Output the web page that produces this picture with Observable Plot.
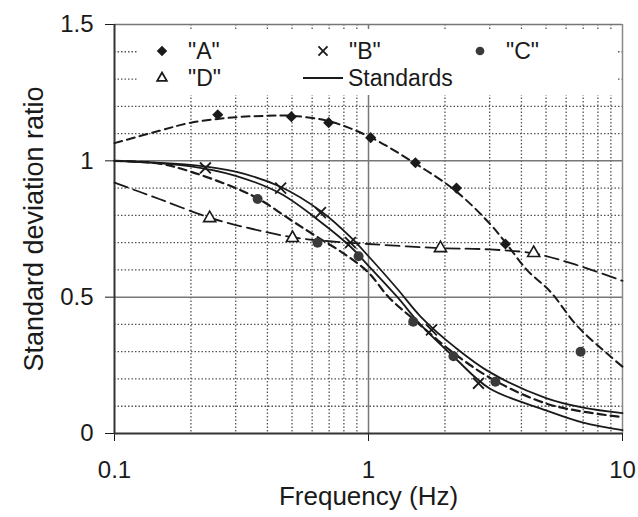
<!DOCTYPE html>
<html><head><meta charset="utf-8">
<script src="https://cdn.jsdelivr.net/npm/d3@7"></script>
<script src="https://cdn.jsdelivr.net/npm/@observablehq/plot@0.6"></script>
<style>
body{margin:0;background:#fff;}
#wrap{position:relative;width:638px;height:517px;font-family:"Liberation Sans",Arial,sans-serif;}
#legend{position:absolute;left:0;top:0;pointer-events:none;}
</style></head><body><div id="wrap"></div>
<script>
// Grid / ticks
const xTicks = [0.1, 1, 10];
const yTicks = [0, 0.5, 1, 1.5];
const minorX = [0.2,0.3,0.4,0.5,0.6,0.7,0.8,0.9,2,3,4,5,6,7,8,9];
const majorX = [1];
const minorY = [0.1,0.2,0.3,0.4,0.6,0.7,0.8,0.9,1.1,1.2,1.3,1.4];
const majorY = [0.5, 1];

// Measured points
const aF = [0.255,0.497,0.697,1.02,1.53,2.22,3.46];
const aY = [1.169,1.162,1.14,1.085,0.993,0.90,0.695];
const bF = [0.228,0.451,0.647,0.849,1.77,2.71];
const bY = [0.974,0.90,0.81,0.70,0.38,0.184];
const cF = [0.366,0.63,0.914,1.5,2.16,3.16,6.84];
const cY = [0.86,0.70,0.65,0.41,0.283,0.19,0.30];
const dF = [0.237,0.502,1.92,4.47];
const dY = [0.79,0.717,0.68,0.662];

// Fitted curves
const aFitF = [0.1,0.15,0.2,0.3,0.4,0.5,0.7,1,1.5,2.2,3,3.5,4.2,5.2,6.7,10];
const aFitY = [1.065,1.11,1.14,1.16,1.165,1.165,1.145,1.09,0.995,0.89,0.77,0.695,0.60,0.52,0.39,0.245];
const cFitF = [0.1,0.15,0.2,0.3,0.37,0.5,0.63,0.8,1,1.2,1.5,2.2,3.2,5,7,10];
const cFitY = [1.0,0.99,0.96,0.9,0.86,0.78,0.72,0.66,0.59,0.5,0.42,0.29,0.19,0.11,0.08,0.06];
const dFitF = [0.1,0.15,0.24,0.35,0.5,0.7,1,1.9,3,4.5,6.5,10];
const dFitY = [0.92,0.86,0.79,0.75,0.72,0.705,0.695,0.68,0.675,0.66,0.62,0.56];
const sF  = [0.1,0.2,0.3,0.45,0.65,0.85,1,1.3,1.6,2.2,3,5,7,10];
const s1Y = [1.0,0.985,0.96,0.905,0.815,0.72,0.65,0.53,0.43,0.315,0.225,0.13,0.095,0.075];
const s2Y = [1.0,0.98,0.945,0.88,0.775,0.685,0.615,0.5,0.40,0.275,0.165,0.085,0.04,0.012];

const zip = (fs, ys) => fs.map((f, i) => ({f, y: ys[i]}));
const ink = "#1a1a1a";

const chart = Plot.plot({
  width: 638, height: 517,
  marginLeft: 114, marginRight: 16, marginTop: 24, marginBottom: 84,
  style: {fontFamily: '"Liberation Sans", Arial, sans-serif', fontSize: "24px", color: ink, background: "white"},
  x: {type: "log", domain: [0.1, 10]},
  y: {domain: [0, 1.5]},
  marks: [
    Plot.ruleX(minorX, {stroke: "#555", strokeWidth: 1.3, strokeDasharray: "1.5,2"}),
    Plot.ruleY(minorY, {stroke: "#555", strokeWidth: 1.3, strokeDasharray: "1.5,2"}),
    Plot.ruleX(majorX, {stroke: "#777", strokeWidth: 1.5}),
    Plot.ruleY(majorY, {stroke: "#777", strokeWidth: 1.5}),
    Plot.ruleY([1.5], {stroke: "#777", strokeWidth: 1.5}),
    Plot.ruleX([10], {stroke: "#888", strokeWidth: 1.5}),
    Plot.axisX({ticks: xTicks, tickFormat: d => String(d), tickSize: 8, tickPadding: 19, fontSize: 24, label: null, stroke: ink}),
    Plot.axisY({ticks: yTicks, tickFormat: d => String(d), tickSize: 9, tickPadding: 12, fontSize: 24, label: null, stroke: ink}),
    Plot.ruleX([0.1], {stroke: "#333", strokeWidth: 2}),
    Plot.ruleY([0], {stroke: "#333", strokeWidth: 2}),
    Plot.line(zip(sF, s1Y), {x: "f", y: "y", curve: "catmull-rom", stroke: ink, strokeWidth: 1.8}),
    Plot.line(zip(sF, s2Y), {x: "f", y: "y", curve: "catmull-rom", stroke: ink, strokeWidth: 1.8}),
    Plot.line(zip(aFitF, aFitY), {x: "f", y: "y", curve: "catmull-rom", stroke: ink, strokeWidth: 2, strokeDasharray: "8,5"}),
    Plot.line(zip(cFitF, cFitY), {x: "f", y: "y", curve: "catmull-rom", stroke: ink, strokeWidth: 2.2, strokeDasharray: "8,5"}),
    Plot.line(zip(dFitF, dFitY), {x: "f", y: "y", curve: "catmull-rom", stroke: ink, strokeWidth: 1.8, strokeDasharray: "14,6"}),
    Plot.dot(zip(aF, aY), {x: "f", y: "y", symbol: "diamond2", r: 5, fill: ink, stroke: "none"}),
    Plot.dot(zip(bF, bY), {x: "f", y: "y", symbol: "times", r: 5, stroke: ink, strokeWidth: 1.8}),
    Plot.dot(zip(cF, cY), {x: "f", y: "y", symbol: "circle", r: 5, fill: "#3a3a3a", stroke: "none"}),
    Plot.dot(zip(dF, dY), {x: "f", y: "y", symbol: "triangle", r: 4.5, fill: "white", stroke: ink, strokeWidth: 1.6}),
    Plot.text(["Frequency (Hz)"], {frameAnchor: "bottom", dy: 71, fontSize: 26, fill: ink}),
    Plot.text(["Standard deviation ratio"], {frameAnchor: "left", textAnchor: "middle", dx: -80, rotate: -90, fontSize: 27, fill: ink})
  ]
});
const wrap = document.getElementById("wrap");
wrap.appendChild(chart);

// Legend overlay
const legendItems = [
  {label: '"A"', sym: "diamond", x: 162, y: 51},
  {label: '"B"', sym: "times", x: 323, y: 51},
  {label: '"C"', sym: "circle", x: 480, y: 51},
  {label: '"D"', sym: "triangle", x: 162, y: 78},
  {label: "Standards", sym: "line", x: 323, y: 78}
];
const ns = "http://www.w3.org/2000/svg";
const lg = document.createElementNS(ns, "svg");
lg.setAttribute("id", "legend");
lg.setAttribute("width", 638); lg.setAttribute("height", 100);
const bg = document.createElementNS(ns, "rect");
bg.setAttribute("x", 137); bg.setAttribute("y", 29); bg.setAttribute("width", 481); bg.setAttribute("height", 66);
bg.setAttribute("fill", "white");
lg.appendChild(bg);
for (const it of legendItems) {
  const g = document.createElementNS(ns, "g");
  g.setAttribute("transform", `translate(${it.x},${it.y})`);
  let el;
  if (it.sym === "line") {
    el = document.createElementNS(ns, "line");
    el.setAttribute("x1", -20); el.setAttribute("x2", 20);
    el.setAttribute("stroke", ink); el.setAttribute("stroke-width", 1.8);
  } else {
    el = document.createElementNS(ns, "path");
    const t = {diamond: d3.symbolDiamond2, times: d3.symbolTimes, circle: d3.symbolCircle, triangle: d3.symbolTriangle}[it.sym];
    const size = {diamond: 70, times: 55, circle: 60, triangle: 40}[it.sym];
    el.setAttribute("d", d3.symbol(t, size)());
    if (it.sym === "times") { el.setAttribute("fill", "none"); el.setAttribute("stroke", ink); el.setAttribute("stroke-width", 1.8); }
    else if (it.sym === "triangle") { el.setAttribute("fill", "white"); el.setAttribute("stroke", ink); el.setAttribute("stroke-width", 1.8); }
    else { el.setAttribute("fill", it.sym === "circle" ? "#3a3a3a" : ink); }
  }
  g.appendChild(el);
  const tx = document.createElementNS(ns, "text");
  tx.setAttribute("x", it.sym === "line" ? 25 : 26);
  tx.setAttribute("y", 0);
  tx.setAttribute("dy", "0.35em");
  tx.setAttribute("font-size", 23);
  tx.setAttribute("font-family", '"Liberation Sans", Arial, sans-serif');
  tx.setAttribute("fill", ink);
  tx.textContent = it.label;
  g.appendChild(tx);
  lg.appendChild(g);
}
wrap.appendChild(lg);
</script>
</body></html>
